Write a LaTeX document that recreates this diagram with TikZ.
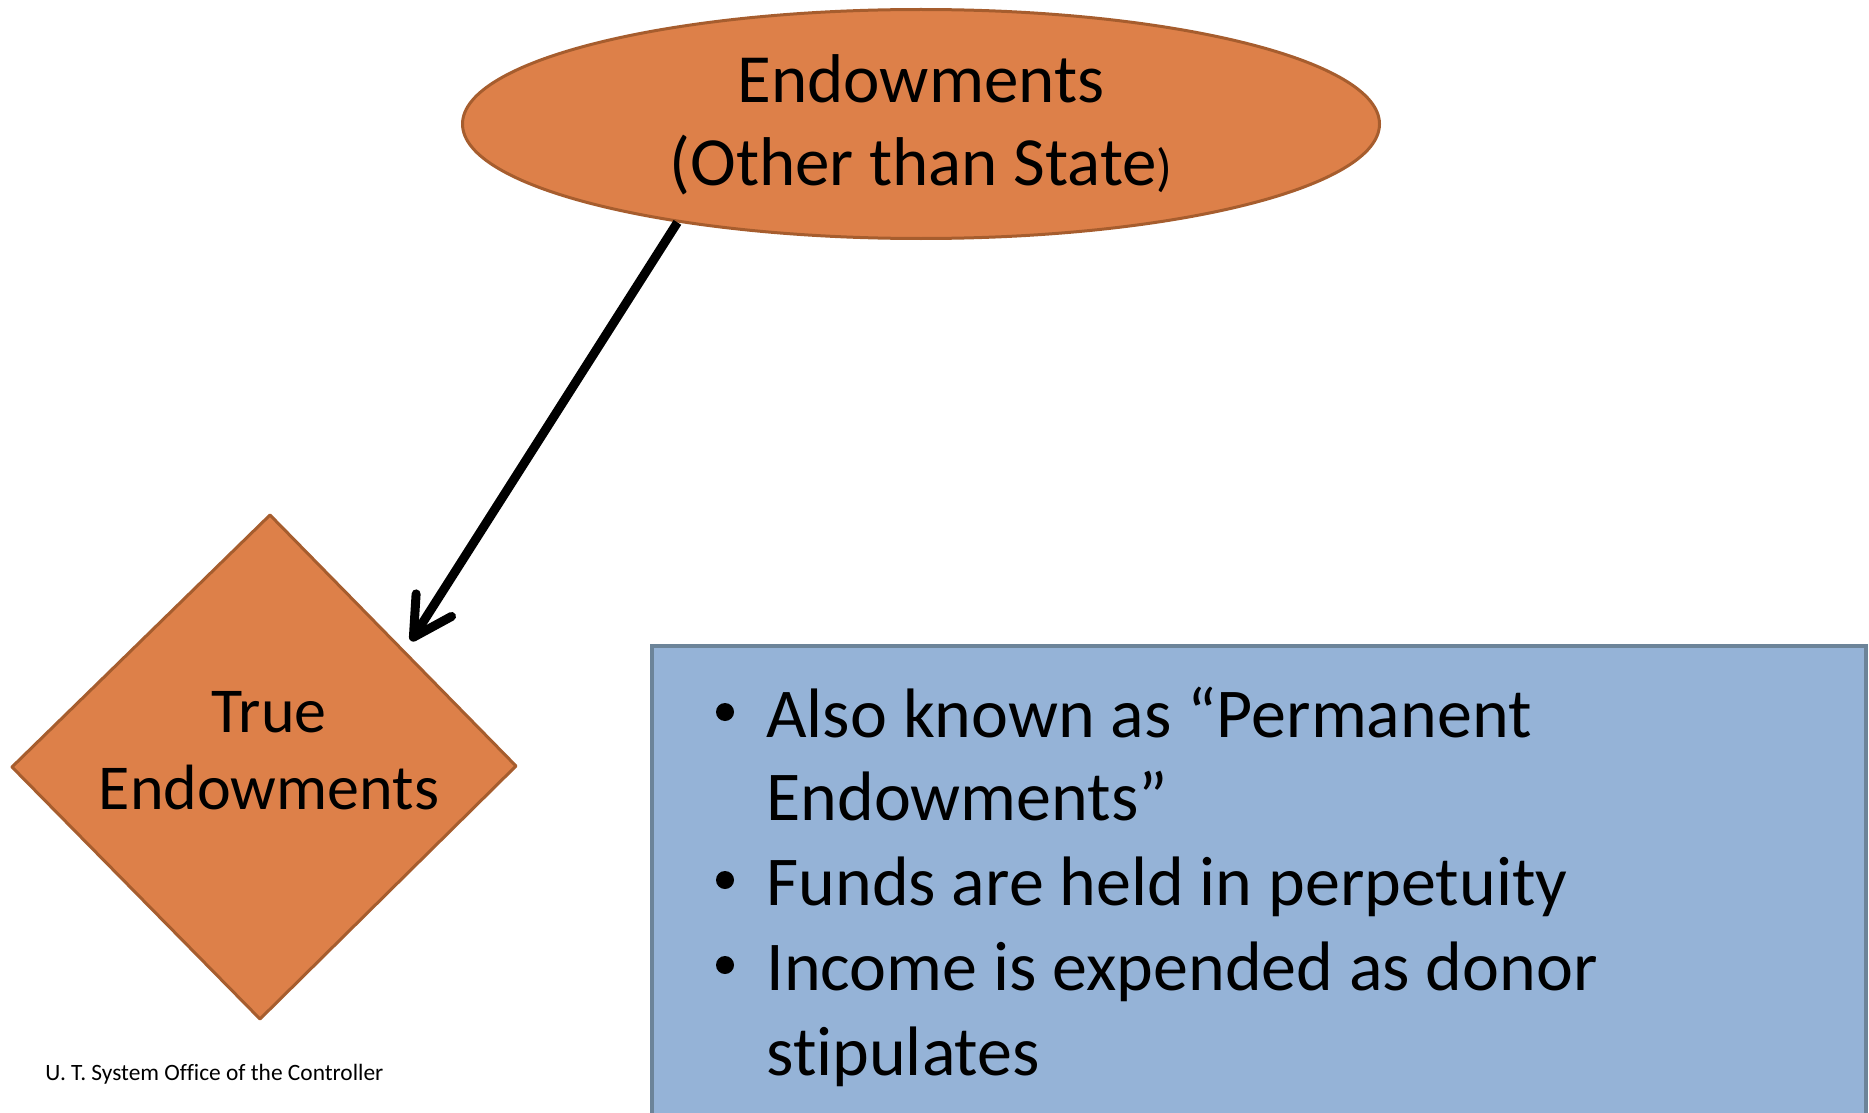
\documentclass[tikz,border=0pt]{standalone}
\usepackage{fontspec}
\setmainfont{Carlito}[Ligatures={NoCommon}]
\usetikzlibrary{shapes.geometric,arrows.meta}
\definecolor{orangefill}{HTML}{DD8049}
\definecolor{orangeline}{HTML}{A65D2E}
\definecolor{bluefill}{HTML}{95B3D7}
\definecolor{blueline}{HTML}{6C8499}
\tikzset{
  ell/.style={ellipse, draw=orangeline, fill=orangefill, line width=1.5pt, inner sep=0pt, minimum width=458.5pt, minimum height=114.5pt},
  dia/.style={draw=orangeline, fill=orangefill, line width=1.5pt, line join=round},
  bigtxt/.style={inner sep=0pt, font=\fontsize{34.5pt}{41pt}\selectfont},
  diatxt/.style={inner sep=0pt, font=\fontsize{32pt}{38pt}\selectfont},
  btxt/.style={inner sep=0pt, font=\fontsize{35pt}{42pt}\selectfont},
  bdot/.style={circle, fill=black, inner sep=0pt, minimum size=9pt},
  foot/.style={inner sep=0pt, font=\fontsize{11.7pt}{14pt}\selectfont},
  boxstyle/.style={rectangle, draw=blueline, fill=bluefill, line width=1.75pt, inner sep=0pt, minimum width=607pt, minimum height=250pt},
  conn/.style={line width=4.5pt, -{Straight Barb[round, length=19pt, width=21pt]}}
}
\begin{document}
\begin{tikzpicture}[x=0.5pt,y=-0.5pt]
\useasboundingbox (0,0) rectangle (1869,1113);
% top ellipse
\node[ell] (E) at (921,124) {};
\node[bigtxt, anchor=base] (E1) at (921,103) {Endowments};
\node[bigtxt, anchor=base] (E2) at (921,185) {(Other than State{\fontsize{26pt}{30pt}\selectfont)}};
% diamond
\coordinate (Dt) at (270,515);
\coordinate (Dr) at (516,766);
\coordinate (Db) at (260,1019);
\coordinate (Dl) at (12,767);
\draw[dia] (Dt) -- (Dr) -- (Db) -- (Dl) -- cycle;
\node[diatxt, anchor=base] (D1) at (269,732) {True};
\node[diatxt, anchor=base] (D2) at (269,809) {Endowments};
% arrow
\coordinate (T) at (411,641);
\draw[conn] (E.202) -- (T);
% blue box
\node[boxstyle, anchor=north west] (B) at (650,644) {};
\node[bdot] (b1) at (725,712) {};
\node[btxt, anchor=base west] (L1) at (766,737) {Also known as “Permanent};
\node[btxt, anchor=base west] (L2) at (766,820) {Endowments”};
\node[bdot] (b2) at (725,880) {};
\node[btxt, anchor=base west] (L3) at (766,905) {Funds are held in perpetuity};
\node[bdot] (b3) at (725,965) {};
\node[btxt, anchor=base west] (L4) at (766,990) {Income is expended as donor};
\node[btxt, anchor=base west] (L5) at (766,1075) {stipulates};
% footer
\node[foot, anchor=base west] (F) at (45,1080) {U. T. System Office of the Controller};
\end{tikzpicture}
\end{document}
